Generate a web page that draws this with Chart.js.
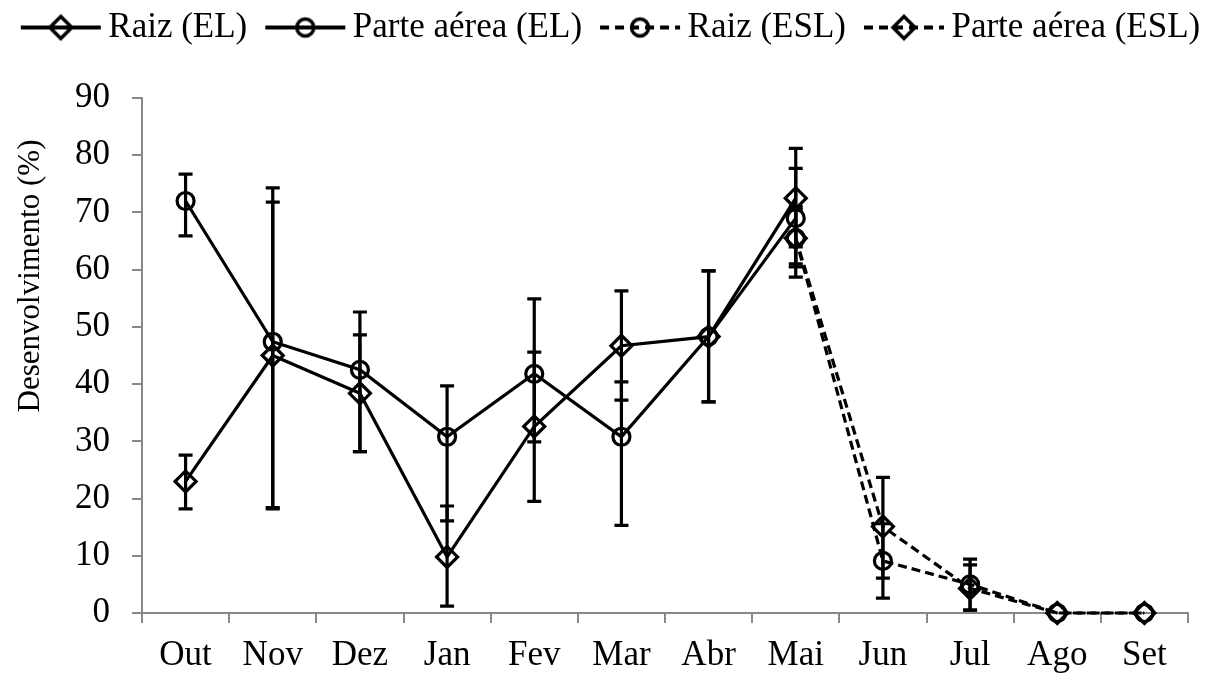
<!DOCTYPE html>
<html><head><meta charset="utf-8">
<script src="https://cdn.jsdelivr.net/npm/chart.js@4/dist/chart.umd.min.js"></script>
<style>html,body{margin:0;padding:0;background:#fff}#wrap{width:1213px;height:673px}</style>
</head><body><div id="wrap"><canvas id="c" width="1213" height="673"></canvas></div>
<script>
const months = ['Out','Nov','Dez','Jan','Fev','Mar','Abr','Mai','Jun','Jul','Ago','Set'];
const yTicks = [0,10,20,30,40,50,60,70,80,90];
const yTitle = 'Desenvolvimento (%)';
const seriesNames = ['Raiz (EL)','Parte aérea (EL)','Raiz (ESL)','Parte aérea (ESL)'];

const raizEL      = [23.0, 45.0, 38.4,  9.8, 32.6, 46.7, 48.3, 72.5, null, null, null, null];
const raizELLow   = [18.2, 18.2, 28.2,  1.2, 19.5, 37.2, 36.9, 64.0, null, null, null, null];
const raizELHigh  = [27.6, 71.8, 48.6, 18.7, 45.6, 56.3, 59.8, 81.2, null, null, null, null];

const parteEL     = [72.0, 47.4, 42.5, 30.8, 41.8, 30.8, 48.3, 69.0, null, null, null, null];
const parteELLow  = [65.9, 18.4, 28.2, 16.1, 29.9, 15.3, 36.9, 61.0, null, null, null, null];
const parteELHigh = [76.7, 74.3, 52.6, 39.7, 54.9, 40.4, 59.8, 77.7, null, null, null, null];

const raizESL      = [null, null, null, null, null, null, null, 65.5,  9.1, 5.0, 0, 0];
const raizESLLow   = [null, null, null, null, null, null, null, 58.7,  2.6, 0.5, null, null];
const raizESLHigh  = [null, null, null, null, null, null, null, 71.0, 15.6, 9.4, null, null];

const parteESL     = [null, null, null, null, null, null, null, 65.5, 15.1, 4.3, 0, 0];
const parteESLLow  = [null, null, null, null, null, null, null, 60.5,  6.1, 0.5, null, null];
const parteESLHigh = [null, null, null, null, null, null, null, 70.5, 23.7, 8.4, null, null];

const FONT = '"Liberation Serif", "Times New Roman", serif';

function legendImg(marker, dashed){
  const c = document.createElement('canvas'); c.width = 104; c.height = 30;
  const g = c.getContext('2d'); g.strokeStyle = '#000'; g.lineWidth = 4;
  if (dashed) g.setLineDash([9,6]);
  g.beginPath(); g.moveTo(21,15); g.lineTo(101,15); g.stroke();
  g.setLineDash([]); g.lineWidth = 3.5;
  const cx = 61;
  g.beginPath();
  if (marker === 'circle') g.arc(cx,15,8.5,0,Math.PI*2);
  else { g.moveTo(cx-11,15); g.lineTo(cx,4); g.lineTo(cx+11,15); g.lineTo(cx,26); g.closePath(); }
  g.stroke();
  return c;
}

function ds(label, data, low, high, marker, dashed){
  return {
    label, data, errLow: low, errHigh: high,
    borderColor: '#000', borderWidth: 3.2, borderDash: dashed ? [9,5] : [],
    pointStyle: marker, pointRadius: marker === 'circle' ? 8.5 : 10.5,
    pointBorderWidth: 3.2, pointBorderColor: '#000', pointBackgroundColor: 'rgba(0,0,0,0)',
    tension: 0, fill: false, clip: false, spanGaps: false,
    legendMarker: marker, legendDashed: dashed
  };
}

const errorBars = {
  id: 'errorBars',
  afterDatasetsDraw(chart){
    const ctx = chart.ctx, xs = chart.scales.x, ys = chart.scales.y;
    ctx.save(); ctx.strokeStyle = '#000'; ctx.lineWidth = 3.2;
    chart.data.datasets.forEach(d => {
      d.errLow.forEach((lo, i) => {
        const hi = d.errHigh[i];
        if (lo == null || hi == null) return;
        const x = xs.getPixelForValue(i), y1 = ys.getPixelForValue(lo), y2 = ys.getPixelForValue(hi);
        ctx.beginPath();
        ctx.moveTo(x, y1); ctx.lineTo(x, y2);
        ctx.moveTo(x-7, y1); ctx.lineTo(x+7, y1);
        ctx.moveTo(x-7, y2); ctx.lineTo(x+7, y2);
        ctx.stroke();
      });
    });
    ctx.restore();
  }
};

const yTitlePlugin = {
  id: 'yTitle',
  afterDraw(chart){
    const ctx = chart.ctx; ctx.save();
    ctx.translate(31, 276); ctx.rotate(-Math.PI/2);
    ctx.font = '31px ' + FONT; ctx.textAlign = 'center'; ctx.textBaseline = 'middle'; ctx.fillStyle = '#000';
    ctx.fillText(yTitle, 0, 0); ctx.restore();
  }
};

// keep the legend band at a fixed height so the plot starts at the same place
const legendBand = {
  id: 'legendBand',
  beforeLayout(chart){
    const lg = chart.legend;
    if (lg && !lg._bandPatched){
      const f = lg.fit;
      lg.fit = function(){ f.call(this); this.height = 98; };
      lg._bandPatched = true;
    }
  }
};

new Chart(document.getElementById('c'), {
  type: 'line',
  data: {
    labels: months,
    datasets: [
      ds(seriesNames[0], raizEL, raizELLow, raizELHigh, 'rectRot', false),
      ds(seriesNames[1], parteEL, parteELLow, parteELHigh, 'circle', false),
      ds(seriesNames[2], raizESL, raizESLLow, raizESLHigh, 'circle', true),
      ds(seriesNames[3], parteESL, parteESLLow, parteESLHigh, 'rectRot', true)
    ]
  },
  options: {
    responsive: false, animation: false, events: [],
    layout: { padding: { left: 0, right: 0, top: 0, bottom: 0 } },
    plugins: {
      tooltip: { enabled: false },
      legend: {
        position: 'top', align: 'center', onClick: null,
        labels: {
          usePointStyle: true, pointStyleWidth: 78, padding: 10, color: '#000',
          font: { family: FONT, size: 35 },
          generateLabels(chart){
            return chart.data.datasets.map((d, i) => ({
              text: d.label, datasetIndex: i, hidden: false, fontColor: '#000',
              pointStyle: legendImg(d.legendMarker, d.legendDashed), lineWidth: 0,
              strokeStyle: 'rgba(0,0,0,0)', fillStyle: 'rgba(0,0,0,0)'
            }));
          }
        }
      }
    },
    scales: {
      x: {
        type: 'category', offset: true,
        grid: { offset: true, drawOnChartArea: false, tickLength: 10, color: '#888', lineWidth: 2 },
        border: { color: '#888', width: 2 },
        ticks: { color: '#000', font: { family: FONT, size: 35 }, padding: 12, maxRotation: 0, autoSkip: false },
        afterFit(s){ s.height = 60; s.paddingRight = 25; s.paddingLeft = 0; }
      },
      y: {
        min: 0, max: 90,
        afterBuildTicks(s){ s.ticks = yTicks.map(v => ({ value: v })); },
        grid: { drawOnChartArea: false, tickLength: 10, color: '#888', lineWidth: 2 },
        border: { color: '#888', width: 2 },
        ticks: { color: '#000', font: { family: FONT, size: 35 }, padding: 22 },
        afterFit(s){ s.width = 142; }
      }
    }
  },
  plugins: [errorBars, yTitlePlugin, legendBand]
});
</script></body></html>
